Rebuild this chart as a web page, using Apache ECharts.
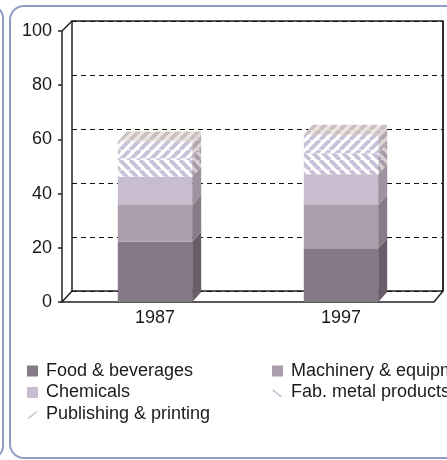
<!DOCTYPE html>
<html><head><meta charset="utf-8">
<script src="https://cdn.jsdelivr.net/npm/echarts@6/dist/echarts.min.js"></script>
<style>html,body{margin:0;padding:0;background:#fff;overflow:hidden}#c{width:447px;height:460px}</style>
</head><body><div id="c"></div>
<script>
// ---- data ----
const categories = ['1987', '1997'];
const seriesNames = ['Food & beverages', 'Machinery & equipment', 'Chemicals', 'Fab. metal products', 'Publishing & printing'];
const food = [22.2, 19.8];
const machinery = [13.6, 16.0];
const chemicals = [10.4, 11.3];
const fabMetal = [6.8, 7.8];
const publishing = [6.2, 6.8];
const yTicks = [0, 20, 40, 60, 80, 100];

const values = [food, machinery, chemicals, fabMetal, publishing];

// ---- styles ----
function hatch(dir, fg, bg, size, lw) {
  const c = document.createElement('canvas');
  c.width = size; c.height = size;
  const g = c.getContext('2d');
  g.fillStyle = bg; g.fillRect(0, 0, size, size);
  g.strokeStyle = fg; g.lineWidth = lw;
  g.beginPath();
  for (let k = -1; k <= 1; k++) {
    if (dir === '/') { g.moveTo(k * size, size); g.lineTo(k * size + size, 0); }
    else { g.moveTo(k * size, 0); g.lineTo(k * size + size, size); }
  }
  g.stroke();
  return { image: c, repeat: 'repeat' };
}
const legendColors = ['#857987', '#ab9eab', '#c7bdcf', '#c5bdd2', '#cdc5d8'];
const fronts = ['#857987', '#ab9eab', '#c7bdcf',
  hatch('\\', '#c9c1d7', '#ffffff', 10, 4),
  hatch('/', '#c9c1d7', '#ffffff', 10, 4)];
const sides = ['#695d6a', '#877b88', '#9f929f',
  hatch('\\', '#a99ca8', '#d8d0d6', 10, 4),
  hatch('/', '#b3a7ae', '#ddd6d8', 10, 4)];
const topFill = hatch('/', '#cbc0bd', '#ece7e5', 10, 4);
const DX = 9, DY = 10;
const FONT = 'Liberation Sans';

function makeRender(si) {
  return function (params, api) {
    const cat = api.value(0), base = api.value(1), top = api.value(2);
    const p0 = api.coord([cat, base]);
    const p1 = api.coord([cat, top]);
    const w = api.size([1, 0])[0] * 0.4;
    const x = p0[0] - w / 2;
    const children = [
      { type: 'rect', shape: { x: x, y: p1[1], width: w, height: p0[1] - p1[1] }, style: { fill: fronts[si] } },
      { type: 'polygon', shape: { points: [[x + w, p1[1]], [x + w + DX, p1[1] - DY], [x + w + DX, p0[1] - DY], [x + w, p0[1]]] }, style: { fill: sides[si] } }
    ];
    if (si === values.length - 1) {
      children.push({ type: 'polygon', shape: { points: [[x, p1[1]], [x + DX, p1[1] - DY], [x + w + DX, p1[1] - DY], [x + w, p1[1]]] }, style: { fill: topFill } });
    }
    return { type: 'group', children: children };
  };
}

const series = values.map((vals, si) => {
  const data = categories.map((c, i) => {
    let base = 0;
    for (let k = 0; k < si; k++) base += values[k][i];
    return [i, base, base + vals[i]];
  });
  return {
    type: 'custom', name: seriesNames[si], xAxisIndex: 0, yAxisIndex: 0,
    itemStyle: { color: legendColors[si] },
    renderItem: makeRender(si),
    encode: { x: 0, y: [1, 2] },
    data: data
  };
});

// back wall (hidden axes, dashed gridlines)
series.push({ type: 'line', xAxisIndex: 1, yAxisIndex: 1, data: [], silent: true });

function legendItem(si) {
  const o = { name: seriesNames[si], itemStyle: { color: legendColors[si] } };
  if (si === 3) o.icon = 'path://M0,0L0.01,0M11,11L11.01,11M0,3.5L1.5,2.5L10,9.5L9,10.5Z';
  else if (si === 4) o.icon = 'path://M0,0L0.01,0M11,11L11.01,11M0.5,9.5L9.5,2.5L10.5,3.5L2,10.5Z';
  else o.icon = 'rect';
  return o;
}
const legendText = { fontFamily: FONT, fontSize: 18, color: '#1a1a1a', padding: [0, 0, 0, 3], lineHeight: 20 };

// decorative panel borders (rounded), built as polylines kept inside the canvas
function arcPts(cx, cy, r, a0, a1) {
  const pts = [];
  for (let i = 0; i <= 12; i++) { const a = a0 + (a1 - a0) * i / 12; pts.push([cx + r * Math.cos(a), cy + r * Math.sin(a)]); }
  return pts;
}
const PI = Math.PI;
const panelPts = [[447, 6]].concat(arcPts(24, 20, 14, -PI / 2, -PI), arcPts(24, 444, 14, PI, PI / 2), [[447, 458]]);
const neighbourPts = [[0, 6]].concat(arcPts(-9, 18, 12, -PI / 2, 0), arcPts(-9, 446, 12, 0, PI / 2), [[0, 458]]);

const chart = echarts.init(document.getElementById('c'), null, { renderer: 'canvas' });
const option = {
  backgroundColor: '#ffffff',
  animation: false,
  grid: [
    { left: 62, right: 13, top: 31, bottom: 158, show: false, containLabel: false, outerBoundsMode: 'none' },
    { left: 72, right: 4, top: 21, bottom: 169, show: true, borderColor: '#222', borderWidth: 1.5, backgroundColor: 'transparent', containLabel: false, outerBoundsMode: 'none' }
  ],
  xAxis: [
    { type: 'category', gridIndex: 0, data: categories, boundaryGap: true,
      axisLine: { show: true, lineStyle: { color: '#222', width: 1.5 } },
      axisTick: { show: false },
      axisLabel: { fontFamily: FONT, fontSize: 18, color: '#1a1a1a', margin: 7 } },
    { type: 'value', gridIndex: 1, min: 0, max: 1, show: false }
  ],
  yAxis: [
    { type: 'value', gridIndex: 0, min: yTicks[0], max: yTicks[yTicks.length - 1], interval: yTicks[1] - yTicks[0],
      axisLine: { show: true, lineStyle: { color: '#222', width: 1.5 } },
      axisTick: { show: true, length: 4, lineStyle: { color: '#222', width: 1.5 } },
      splitLine: { show: false },
      axisLabel: { fontFamily: FONT, fontSize: 18, color: '#1a1a1a', margin: 10 } },
    { type: 'value', gridIndex: 1, min: yTicks[0], max: yTicks[yTicks.length - 1], interval: yTicks[1] - yTicks[0],
      axisLine: { show: false }, axisTick: { show: false }, axisLabel: { show: false },
      splitLine: { show: true, lineStyle: { color: '#111', width: 1.2, type: [5, 4] } } }
  ],
  legend: [
    { orient: 'vertical', left: 27, top: 361, padding: 0, itemWidth: 11, itemHeight: 11, itemGap: 1.5,
      textStyle: legendText, data: [legendItem(0), legendItem(2), legendItem(4)], selectedMode: false },
    { orient: 'vertical', left: 272, top: 361, padding: 0, itemWidth: 11, itemHeight: 11, itemGap: 1.5,
      textStyle: legendText, data: [legendItem(1), legendItem(3)], selectedMode: false }
  ],
  graphic: [
    { type: 'polyline', shape: { points: [[62, 31], [72, 21]] }, style: { stroke: '#222', lineWidth: 1.5 } },
    { type: 'polyline', shape: { points: [[62, 302], [72, 291]] }, style: { stroke: '#222', lineWidth: 1.5 } },
    { type: 'polyline', shape: { points: [[434, 302], [443, 291]] }, style: { stroke: '#222', lineWidth: 1.5 } },
    { type: 'polyline', shape: { points: [[443, 21], [443, 291]] }, style: { stroke: '#222', lineWidth: 1.5 } },
    { type: 'polyline', silent: true, z: 100, shape: { points: panelPts }, style: { fill: null, stroke: '#8f9cc6', lineWidth: 2 } },
    { type: 'polyline', silent: true, z: 100, shape: { points: neighbourPts }, style: { fill: null, stroke: '#8f9cc6', lineWidth: 2 } }
  ],
  series: series
};
chart.setOption(option);
</script>
</body></html>
